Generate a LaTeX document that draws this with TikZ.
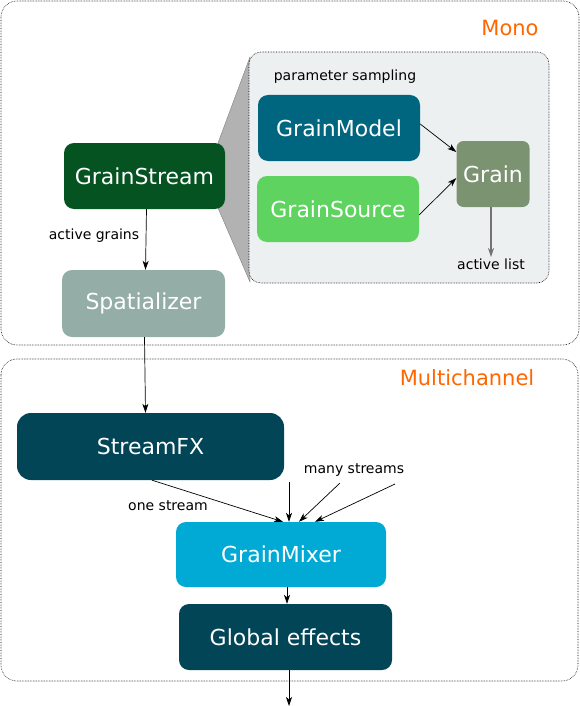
\documentclass[tikz,border=0pt]{standalone}
\usepackage{fontspec}
\setmainfont{DejaVu Sans}
\usetikzlibrary{positioning,calc,arrows.meta}

\definecolor{streamgreen}{RGB}{4,83,33}
\definecolor{modelblue}{RGB}{0,102,128}
\definecolor{sourcegreen}{RGB}{95,211,95}
\definecolor{grainolive}{RGB}{124,147,114}
\definecolor{spatgray}{RGB}{149,173,167}
\definecolor{darkteal}{RGB}{2,69,86}
\definecolor{mixcyan}{RGB}{0,170,212}
\definecolor{innerfill}{RGB}{236,240,241}
\definecolor{labelorange}{RGB}{255,102,0}

\tikzset{
  box/.style={rounded corners=10pt, text=white, minimum height=66pt,
    font=\fontsize{22}{26}\selectfont},
  region/.style={densely dotted, line width=0.6pt, rounded corners=16pt},
  lbl/.style={font=\fontsize{14}{16}\selectfont},
  title/.style={font=\fontsize{21}{24}\selectfont, text=labelorange},
  flow/.style={-{Stealth[length=9pt,width=6pt,inset=2.5pt]}, line width=0.7pt},
}

\begin{document}
\begin{tikzpicture}[x=1pt, y=-1pt]
          \useasboundingbox (0, 0) rectangle (580, 706);%
          \draw [region] (1, 1) rectangle (579, 345);%
          \draw [region] (1, 359) rectangle (578, 681);%
          \node [title] (mono) at (510, 28) {Mono};%
          \node [title] (multi) at (467, 378) {Multichannel};%
          \filldraw [fill=black!30, draw=black!50] (218, 143) -- (250, 57) -- (250, 282) -- (218, 208) -- cycle;%
          \draw [region, rounded corners=12pt, fill=innerfill] (249, 52) rectangle (549, 283);%
          \node [box, fill=streamgreen, minimum width=161pt] (gstream) at (144.5, 176) {GrainStream};%
          \node [box, fill=modelblue, minimum width=162pt] (gmodel) at (339, 128) {GrainModel};%
          \node [box, fill=sourcegreen, minimum width=162pt] (gsource) at (338, 209) {GrainSource};%
          \node [box, fill=grainolive, minimum width=73pt, rounded corners=7pt] (grain) at (493, 174) {Grain};%
          \node [box, fill=spatgray, minimum width=163pt, minimum height=67pt] (spat) at (143.5, 303.5) {Spatializer};%
          \node [box, fill=darkteal, minimum width=267pt, minimum height=67pt, rounded corners=14pt] (sfx) at (150.5, 446.5) {StreamFX};%
          \node [box, fill=mixcyan, minimum width=210pt, minimum height=65pt] (gmix) at (281, 554.5) {GrainMixer};%
          \node [box, fill=darkteal, minimum width=213pt] (gfx) at (285.5, 637) {Global effects};%
          \node [lbl] (psamp) at (345, 77) {parameter sampling};%
          \node [lbl] (alist) at (491, 264) {active list};%
          \node [lbl] (agrains) at (94, 236) {active grains};%
          \node [lbl] (many) at (354, 470) {many streams};%
          \node [lbl] (one) at (168, 506) {one stream};%
          \coordinate (in1) at (289, 482);%
          \coordinate (in2) at (340, 483);%
          \coordinate (in3) at (395, 484);%
          \coordinate (out) at (289, 706);%
          \draw [flow] ([xshift=2pt]gstream.south) -- ([xshift=2pt]spat.north);%
          \draw [flow] ([xshift=1pt]spat.south) -- ([xshift=-5pt]sfx.north);%
          \draw [flow] ([yshift=4pt]gmodel.east) -- ([yshift=22pt]grain.west);%
          \draw [flow] ([yshift=-6pt]gsource.east) -- ([yshift=-4pt]grain.west);%
          \draw [flow, draw=black!55, line width=1.4pt] ([xshift=-2pt]grain.south) -- ([xshift=0pt, yshift=-2pt]alist.north);%
          \draw [flow] ([xshift=1.5pt]sfx.south) -- ([xshift=2pt]gmix.north);%
          \draw [flow] (in1) -- ([xshift=8pt]gmix.north);%
          \draw [flow] (in2) -- ([xshift=18pt]gmix.north);%
          \draw [flow] (in3) -- ([xshift=34pt]gmix.north);%
          \draw [flow] ([xshift=1.5pt]gfx.north |- gmix.south) -- ([xshift=1.5pt]gfx.north);%
          \draw [flow] ([xshift=3.5pt]gfx.south) -- (out);%
        \end{tikzpicture}
\end{document}
